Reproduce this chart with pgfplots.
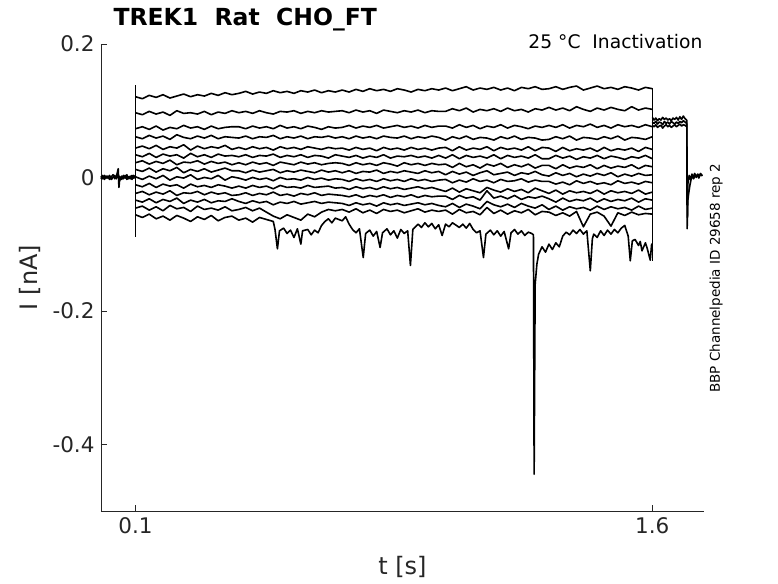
\documentclass[border=0pt]{standalone}
\usepackage{fontspec}
\setmainfont{DejaVu Sans}
\usepackage{pgfplots}
\usepackage{pgfplotstable}
\pgfplotsset{compat=1.18}
\definecolor{axgray}{RGB}{38,38,38}

\pgfplotstableread{
t a b c d e f g h i k l m n
0.10 0.121 0.097 0.073 0.061 0.044 0.034 0.022 0.012 0.001 -0.011 -0.024 -0.034 -0.046
0.12 0.118 0.094 0.076 0.058 0.047 0.031 0.025 0.009 -0.003 -0.014 -0.021 -0.037 -0.043
0.14 0.123 0.099 0.072 0.063 0.043 0.036 0.020 0.014 0.002 -0.009 -0.026 -0.032 -0.049
0.16 0.120 0.095 0.077 0.059 0.048 0.030 0.024 0.008 -0.002 -0.015 -0.022 -0.038 -0.044
0.18 0.124 0.098 0.071 0.062 0.042 0.035 0.021 0.013 0.003 -0.010 -0.025 -0.033 -0.050
0.20 0.119 0.093 0.075 0.057 0.046 0.032 0.026 0.010 -0.004 -0.013 -0.020 -0.036 -0.042
0.22 0.122 0.100 0.073 0.064 0.044 0.034 0.019 0.015 0.001 -0.011 -0.027 -0.031 -0.047
0.24 0.125 0.096 0.078 0.060 0.049 0.029 0.023 0.007 -0.001 -0.016 -0.023 -0.039 -0.045
0.26 0.121 0.097 0.074 0.058 0.041 0.036 0.022 0.012 0.004 -0.010 -0.024 -0.034 -0.051
0.28 0.124 0.095 0.076 0.062 0.047 0.031 0.025 0.009 -0.003 -0.014 -0.021 -0.037 -0.043
0.30 0.122 0.099 0.072 0.059 0.043 0.034 0.020 0.013 0.000 -0.012 -0.026 -0.033 -0.048
0.32 0.126 0.094 0.077 0.063 0.046 0.030 0.024 0.008 -0.002 -0.015 -0.022 -0.038 -0.046
0.34 0.123 0.098 0.073 0.058 0.044 0.035 0.021 0.011 0.003 -0.011 -0.025 -0.035 -0.049
0.36 0.127 0.096 0.075 0.061 0.048 0.032 0.023 0.014 -0.004 -0.013 -0.023 -0.036 -0.044
0.38 0.124 0.100 0.076 0.060 0.042 0.033 0.019 0.010 0.001 -0.016 -0.027 -0.032 -0.050
0.40 0.126 0.097 0.076 0.059 0.045 0.031 0.022 0.010 -0.001 -0.013 -0.026 -0.036 -0.048
0.42 0.129 0.099 0.073 0.062 0.042 0.034 0.019 0.007 -0.004 -0.016 -0.023 -0.039 -0.045
0.44 0.125 0.096 0.077 0.058 0.046 0.030 0.023 0.011 0.000 -0.012 -0.027 -0.035 -0.050
0.46 0.128 0.100 0.074 0.061 0.043 0.033 0.020 0.008 -0.003 -0.015 -0.024 -0.038 -0.046
0.48 0.126 0.097 0.076 0.060 0.045 0.032 0.022 0.010 -0.001 -0.013 -0.026 -0.036 -0.052
0.50 0.130 0.095 0.073 0.063 0.041 0.035 0.018 0.012 -0.005 -0.017 -0.022 -0.041 -0.058
0.52 0.127 0.099 0.078 0.058 0.046 0.030 0.023 0.007 0.000 -0.012 -0.027 -0.037 -0.062
0.54 0.129 0.098 0.074 0.061 0.043 0.033 0.021 0.010 -0.003 -0.015 -0.025 -0.039 -0.056
0.56 0.126 0.100 0.076 0.059 0.045 0.031 0.019 0.008 -0.002 -0.014 -0.028 -0.036 -0.060
0.58 0.130 0.096 0.073 0.062 0.042 0.034 0.023 0.011 -0.004 -0.016 -0.024 -0.040 -0.064
0.60 0.128 0.099 0.077 0.058 0.046 0.030 0.020 0.009 0.000 -0.012 -0.026 -0.038 -0.055
0.62 0.131 0.097 0.075 0.061 0.044 0.033 0.022 0.007 -0.003 -0.015 -0.023 -0.036 -0.059
0.64 0.127 0.100 0.072 0.060 0.042 0.032 0.019 0.011 -0.001 -0.014 -0.027 -0.039 -0.052
0.66 0.130 0.098 0.076 0.062 0.045 0.029 0.021 0.008 -0.004 -0.013 -0.025 -0.037 -0.048
0.68 0.128 0.099 0.074 0.059 0.043 0.034 0.022 0.010 -0.002 -0.016 -0.026 -0.038 -0.050
0.70 0.131 0.100 0.075 0.061 0.044 0.032 0.021 0.007 -0.003 -0.015 -0.027 -0.039 -0.048
0.72 0.128 0.097 0.078 0.058 0.041 0.030 0.018 0.010 -0.006 -0.018 -0.029 -0.042 -0.052
0.74 0.132 0.101 0.074 0.062 0.045 0.033 0.022 0.006 -0.002 -0.014 -0.026 -0.038 -0.047
0.76 0.129 0.098 0.077 0.059 0.042 0.029 0.019 0.009 -0.005 -0.017 -0.030 -0.041 -0.053
0.78 0.133 0.100 0.075 0.061 0.044 0.032 0.021 0.008 -0.003 -0.015 -0.027 -0.039 -0.049
0.80 0.130 0.096 0.078 0.058 0.040 0.030 0.018 0.011 -0.006 -0.018 -0.029 -0.043 -0.054
0.82 0.132 0.101 0.074 0.062 0.045 0.034 0.022 0.006 -0.002 -0.014 -0.026 -0.038 -0.048
0.84 0.129 0.099 0.076 0.060 0.042 0.029 0.020 0.009 -0.005 -0.017 -0.030 -0.041 -0.051
0.86 0.133 0.097 0.078 0.059 0.044 0.032 0.017 0.007 -0.003 -0.015 -0.027 -0.039 -0.049
0.88 0.131 0.100 0.075 0.062 0.041 0.031 0.022 0.010 -0.006 -0.018 -0.029 -0.042 -0.053
0.90 0.128 0.098 0.077 0.058 0.045 0.033 0.019 0.008 -0.002 -0.016 -0.026 -0.040 -0.050
0.92 0.132 0.101 0.074 0.061 0.042 0.030 0.021 0.006 -0.005 -0.014 -0.030 -0.038 -0.047
0.94 0.130 0.097 0.078 0.059 0.044 0.032 0.018 0.010 -0.003 -0.017 -0.027 -0.041 -0.052
0.96 0.133 0.100 0.075 0.062 0.041 0.029 0.021 0.007 -0.006 -0.015 -0.029 -0.039 -0.049
0.98 0.131 0.099 0.077 0.060 0.044 0.033 0.019 0.009 -0.004 -0.018 -0.028 -0.042 -0.051
1.00 0.134 0.099 0.077 0.056 0.045 0.029 0.020 0.004 -0.003 -0.021 -0.028 -0.044 -0.049
1.02 0.130 0.103 0.074 0.061 0.040 0.034 0.015 0.009 -0.008 -0.016 -0.033 -0.039 -0.055
1.04 0.133 0.100 0.079 0.058 0.046 0.028 0.021 0.005 -0.004 -0.022 -0.027 -0.045 -0.048
1.06 0.136 0.104 0.075 0.062 0.041 0.033 0.016 0.008 -0.007 -0.017 -0.031 -0.040 -0.053
1.08 0.131 0.098 0.078 0.057 0.044 0.030 0.019 0.003 -0.002 -0.020 -0.029 -0.043 -0.051
1.10 0.134 0.102 0.073 0.060 0.042 0.032 0.014 0.007 -0.006 -0.023 -0.034 -0.047 -0.056
1.12 0.132 0.100 0.077 0.059 0.046 0.029 0.020 0.010 -0.004 -0.015 -0.020 -0.036 -0.045
1.14 0.135 0.103 0.075 0.056 0.040 0.034 0.017 0.004 -0.008 -0.019 -0.031 -0.041 -0.054
1.16 0.131 0.099 0.079 0.061 0.045 0.028 0.021 0.006 -0.003 -0.022 -0.028 -0.044 -0.049
1.18 0.134 0.104 0.074 0.058 0.042 0.033 0.015 0.008 -0.006 -0.017 -0.032 -0.040 -0.055
1.20 0.130 0.100 0.078 0.062 0.044 0.030 0.019 0.003 -0.005 -0.021 -0.027 -0.045 -0.050
1.22 0.135 0.102 0.076 0.057 0.041 0.032 0.016 0.007 -0.002 -0.018 -0.033 -0.039 -0.053
1.24 0.133 0.098 0.073 0.060 0.046 0.029 0.020 0.005 -0.007 -0.023 -0.029 -0.043 -0.048
1.26 0.136 0.103 0.077 0.059 0.040 0.034 0.014 0.009 -0.004 -0.016 -0.031 -0.046 -0.056
1.28 0.132 0.101 0.075 0.056 0.045 0.028 0.018 0.004 -0.006 -0.020 -0.028 -0.041 -0.051
1.30 0.133 0.105 0.078 0.057 0.044 0.028 0.018 0.002 -0.006 -0.024 -0.032 -0.048 -0.052
1.32 0.136 0.101 0.075 0.061 0.039 0.033 0.013 0.007 -0.010 -0.019 -0.037 -0.043 -0.057
1.34 0.132 0.104 0.079 0.058 0.045 0.029 0.019 0.003 -0.007 -0.025 -0.031 -0.049 -0.053
1.36 0.135 0.100 0.074 0.062 0.040 0.032 0.014 0.006 -0.011 -0.020 -0.036 -0.044 -0.058
1.38 0.137 0.106 0.078 0.056 0.043 0.027 0.017 0.001 -0.005 -0.023 -0.033 -0.047 -0.051
1.40 0.131 0.102 0.076 0.060 0.041 0.031 0.015 0.005 -0.009 -0.021 -0.035 -0.045 -0.074
1.42 0.134 0.099 0.080 0.059 0.044 0.029 0.019 0.002 -0.006 -0.024 -0.031 -0.049 -0.055
1.44 0.137 0.104 0.075 0.057 0.039 0.033 0.013 0.006 -0.010 -0.019 -0.037 -0.043 -0.052
1.46 0.133 0.101 0.078 0.061 0.045 0.028 0.018 0.003 -0.008 -0.025 -0.032 -0.048 -0.058
1.48 0.135 0.105 0.074 0.058 0.040 0.032 0.014 0.007 -0.011 -0.020 -0.036 -0.044 -0.073
1.50 0.132 0.102 0.079 0.062 0.043 0.030 0.017 0.001 -0.005 -0.023 -0.033 -0.047 -0.053
1.52 0.136 0.100 0.076 0.056 0.041 0.027 0.015 0.005 -0.009 -0.021 -0.035 -0.045 -0.057
1.54 0.134 0.106 0.078 0.060 0.044 0.031 0.019 0.002 -0.007 -0.024 -0.031 -0.049 -0.052
1.56 0.131 0.101 0.075 0.059 0.039 0.029 0.013 0.006 -0.010 -0.019 -0.037 -0.043 -0.056
1.58 0.135 0.104 0.079 0.057 0.045 0.033 0.018 0.003 -0.006 -0.025 -0.032 -0.048 -0.054
1.60 0.133 0.102 0.076 0.061 0.042 0.028 0.016 0.004 -0.008 -0.022 -0.034 -0.046 -0.055
}\main

\pgfplotstableread{
t p q r
1.600 0.090 0.083 0.078
1.605 0.086 0.081 0.076
1.610 0.089 0.084 0.079
1.615 0.085 0.080 0.075
1.620 0.088 0.083 0.077
1.625 0.086 0.082 0.078
1.630 0.090 0.079 0.074
1.635 0.087 0.084 0.077
1.640 0.089 0.081 0.079
1.645 0.086 0.083 0.076
1.650 0.088 0.080 0.078
1.655 0.085 0.084 0.075
1.660 0.089 0.082 0.077
1.665 0.087 0.080 0.079
1.670 0.090 0.083 0.076
1.675 0.086 0.081 0.078
1.680 0.091 0.084 0.080
1.685 0.087 0.082 0.077
1.690 0.092 0.085 0.079
1.695 0.088 0.083 0.078
1.700 0.086 0.081 0.076
}\tail

\begin{document}
\begin{tikzpicture}
\path[use as bounding box] (-101pt,-72pt) rectangle (677pt,511pt);
\begin{axis}[
  at={(0pt,0pt)}, anchor=south west,
  scale only axis, width=603pt, height=467pt,
  xmin=0, xmax=1.75, ymin=-0.5, ymax=0.2,
  axis x line*=bottom, axis y line*=left,
  axis line style={draw=axgray, line width=0.6pt, -},
  xtick={0.1,1.6}, xticklabels={0.1,1.6},
  ytick={-0.4,-0.2,0,0.2},
  yticklabels={-0.4,-0.2,0\hspace{23pt},0.2\hspace{7pt}},
  tick align=inside, major tick length=6pt,
  tick style={draw=axgray, line width=0.6pt},
  ticklabel style={font=\fontsize{21.5}{25}\selectfont, text=axgray},
  yticklabel style={xshift=-3pt},
  xticklabel style={yshift=-3pt},
  xlabel={t [s]}, ylabel={I [nA]},
  label style={font=\fontsize{24}{28}\selectfont, text=axgray},
  xlabel style={at={(axis description cs:0.5,-0.12)}, anchor=center},
  ylabel style={at={(axis description cs:-0.1177,0.5)}, anchor=center},
  clip=false,
  cycle list={{black, solid, mark=none}},
  every axis plot post/.append style={line width=1.6pt, line join=round},
]
% pre-step baseline
\addplot coordinates {(0.000,0.002) (0.005,-0.002) (0.010,0.003) (0.015,-0.001) (0.020,0.002) (0.025,-0.003) (0.030,0.001) (0.035,0.004) (0.040,-0.002) (0.045,0.002) (0.050,0.013) (0.052,-0.015) (0.055,0.001) (0.060,-0.003) (0.065,0.003) (0.070,-0.001) (0.075,0.004) (0.080,-0.002) (0.085,0.002) (0.090,-0.003) (0.095,0.003) (0.100,0.000)};
\addplot coordinates {(0.000,-0.002) (0.005,0.003) (0.010,-0.003) (0.015,0.002) (0.020,-0.001) (0.025,0.003) (0.030,-0.003) (0.035,0.000) (0.040,0.003) (0.045,-0.002) (0.050,0.004) (0.055,-0.004) (0.060,0.002) (0.065,-0.002) (0.070,0.003) (0.075,-0.003) (0.080,0.001) (0.085,-0.002) (0.090,0.003) (0.095,-0.001) (0.100,0.001)};
% transients at the step edges
\addplot coordinates {(0.1,0.138) (0.1,-0.090)};
\addplot coordinates {(1.6,0.134) (1.6,-0.125)};
% step traces
\addplot table[x=t,y=a]{\main};
\addplot table[x=t,y=b]{\main};
\addplot table[x=t,y=c]{\main};
\addplot table[x=t,y=d]{\main};
\addplot table[x=t,y=e]{\main};
\addplot table[x=t,y=f]{\main};
\addplot table[x=t,y=g]{\main};
\addplot table[x=t,y=h]{\main};
\addplot table[x=t,y=i]{\main};
\addplot table[x=t,y=k]{\main};
\addplot table[x=t,y=l]{\main};
\addplot table[x=t,y=m]{\main};
\addplot table[x=t,y=n]{\main};
% lowest trace
\addplot coordinates {(0.10,-0.056) (0.12,-0.060) (0.14,-0.055) (0.16,-0.062) (0.18,-0.058) (0.20,-0.064) (0.22,-0.057) (0.24,-0.061) (0.26,-0.066) (0.28,-0.059) (0.30,-0.063) (0.32,-0.057) (0.34,-0.065) (0.36,-0.060) (0.38,-0.058) (0.40,-0.064) (0.42,-0.061) (0.44,-0.067) (0.46,-0.060) (0.48,-0.063)
(0.50,-0.066) (0.505,-0.078) (0.512,-0.107) (0.518,-0.080) (0.53,-0.076) (0.54,-0.084) (0.55,-0.079) (0.56,-0.090) (0.57,-0.077) (0.58,-0.100) (0.585,-0.080) (0.60,-0.078) (0.61,-0.086) (0.62,-0.079) (0.63,-0.083) (0.64,-0.072)
(0.65,-0.066) (0.66,-0.062) (0.67,-0.068) (0.68,-0.061) (0.70,-0.065) (0.71,-0.059) (0.72,-0.070)
(0.73,-0.078) (0.74,-0.083) (0.75,-0.077) (0.761,-0.120) (0.768,-0.084) (0.78,-0.079) (0.79,-0.088) (0.80,-0.081) (0.81,-0.105) (0.817,-0.083) (0.83,-0.077) (0.84,-0.086) (0.85,-0.080) (0.86,-0.091) (0.87,-0.078) (0.88,-0.084) (0.89,-0.080) (0.898,-0.132) (0.905,-0.078)
(0.92,-0.070) (0.93,-0.075) (0.94,-0.068) (0.95,-0.074) (0.96,-0.069) (0.97,-0.077) (0.98,-0.071) (0.99,-0.087) (1.00,-0.070) (1.01,-0.074) (1.02,-0.068) (1.04,-0.075) (1.05,-0.070) (1.06,-0.076) (1.07,-0.069)
(1.08,-0.078) (1.09,-0.083) (1.10,-0.080) (1.11,-0.120) (1.117,-0.085) (1.13,-0.079) (1.14,-0.086) (1.15,-0.080) (1.16,-0.088) (1.17,-0.081) (1.183,-0.107) (1.19,-0.083) (1.20,-0.078) (1.21,-0.085) (1.22,-0.080) (1.23,-0.087) (1.24,-0.082) (1.25,-0.084) (1.255,-0.086)
(1.257,-0.445) (1.260,-0.160) (1.265,-0.130) (1.27,-0.115) (1.28,-0.104) (1.29,-0.112) (1.30,-0.100) (1.31,-0.108) (1.32,-0.098) (1.33,-0.104)
(1.34,-0.088) (1.35,-0.082) (1.36,-0.086) (1.37,-0.079) (1.38,-0.084) (1.39,-0.078) (1.40,-0.085) (1.41,-0.080) (1.42,-0.140) (1.426,-0.092) (1.43,-0.085) (1.44,-0.090) (1.45,-0.080) (1.46,-0.087) (1.47,-0.079) (1.48,-0.085) (1.49,-0.078) (1.50,-0.083) (1.51,-0.076) (1.52,-0.072) (1.525,-0.080) (1.53,-0.088) (1.536,-0.125) (1.542,-0.095) (1.55,-0.093) (1.56,-0.102) (1.565,-0.096) (1.57,-0.110) (1.58,-0.098) (1.585,-0.106) (1.594,-0.124) (1.598,-0.100) (1.60,-0.110)};
% tail
\addplot table[x=t,y=p]{\tail};
\addplot table[x=t,y=q]{\tail};
\addplot table[x=t,y=r]{\tail};
\addplot coordinates {(1.700,0.086) (1.701,-0.077) (1.703,-0.035) (1.706,-0.022) (1.709,-0.012) (1.712,-0.004) (1.716,0.002) (1.720,-0.002) (1.724,0.004) (1.728,0.000) (1.732,0.005) (1.736,0.001) (1.740,0.006) (1.745,0.002)};
\addplot coordinates {(1.700,0.081) (1.702,-0.060) (1.703,-0.010) (1.707,0.003) (1.711,-0.003) (1.715,0.005) (1.719,0.000) (1.723,0.006) (1.727,0.001) (1.731,0.004) (1.735,-0.001) (1.739,0.005) (1.745,0.003)};
% texts
\node[anchor=base west, font=\fontsize{23.5}{28}\selectfont\bfseries, text=black] at (rel axis cs:0,1) [xshift=9pt, yshift=19pt] {TREK1\ \ Rat\ \ CHO\_FT};
\node[anchor=base east, font=\fontsize{18.7}{22}\selectfont, text=black] at (rel axis cs:1,1) [xshift=2pt, yshift=-4pt] {25 °C\ \ Inactivation};
\node[rotate=90, anchor=west, font=\fontsize{13.5}{16}\selectfont, text=black] at (axis cs:1.7855,-0.328) {BBP Channelpedia ID 29658 rep 2};
\end{axis}
\end{tikzpicture}
\end{document}
